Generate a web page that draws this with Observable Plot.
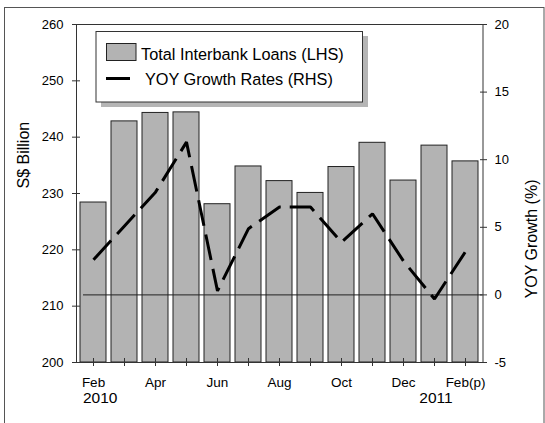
<!DOCTYPE html>
<html><head><meta charset="utf-8">
<script src="https://cdn.jsdelivr.net/npm/d3@7"></script>
<script src="https://cdn.jsdelivr.net/npm/@observablehq/plot@0.6"></script>
<style>
html,body{margin:0;padding:0;background:#fff}
#chart svg{display:block}
</style>
</head><body><div id="chart"></div>
<script>
// ---- data ----
const months = ["Feb-10","Mar-10","Apr-10","May-10","Jun-10","Jul-10","Aug-10","Sep-10","Oct-10","Nov-10","Dec-10","Jan-11","Feb-11"];
const monthLabels = ["Feb","","Apr","","Jun","","Aug","","Oct","","Dec","","Feb(p)"];
const loans = [228.4, 242.8, 244.3, 244.4, 228.1, 234.8, 232.2, 230.1, 234.7, 239.0, 232.3, 238.5, 235.7];
const growth = [2.6, 5.1, 7.6, 11.3, 0.3, 4.9, 6.5, 6.5, 3.9, 6.0, 2.5, -0.3, 3.2];
const leftTicks = [200, 210, 220, 230, 240, 250, 260];
const rightTicks = [-5, 0, 5, 10, 15, 20];
const leftDomain = [200, 260];
const rightDomain = [-5, 20];
const seriesNames = ["Total Interbank Loans (LHS)", "YOY Growth Rates (RHS)"];
const yAxisTitles = ["S$ Billion", "YOY Growth (%)"];

// map right-axis values into the left scale
const toLeft = v => leftDomain[0] + (v - rightDomain[0]) * (leftDomain[1] - leftDomain[0]) / (rightDomain[1] - rightDomain[0]);
const fromLeft = v => rightDomain[0] + (v - leftDomain[0]) * (rightDomain[1] - rightDomain[0]) / (leftDomain[1] - leftDomain[0]);

const table = months.map((m, i) => ({month: m, loans: loans[i], growth: toLeft(growth[i])}));
const labelMap = new Map(months.map((m, i) => [m, monthLabels[i]]));

const FONT = "'Liberation Sans', Arial, Helvetica, sans-serif";
const AX = "#333";

const plot = Plot.plot({
  width: 545, height: 423,
  marginLeft: 76, marginRight: 62.5, marginTop: 24, marginBottom: 61,
  style: {fontFamily: FONT, fontSize: "13px", background: "#fff", color: "#000", overflow: "visible"},
  x: {type: "band", domain: months, paddingInner: 0.17, paddingOuter: 0.06, axis: null, label: null},
  y: {domain: leftDomain, axis: null, label: null},
  marks: [
    Plot.barY(table, {x: "month", y1: leftDomain[0], y2: "loans", fill: "#b3b3b3", stroke: "#222", strokeWidth: 1}),
    Plot.ruleY([toLeft(0)], {stroke: "#222", strokeWidth: 1, insetLeft: 7}),
    Plot.line(table, {x: "month", y: "growth", stroke: "#000", strokeWidth: 3, strokeDasharray: "26,9", strokeLinejoin: "miter", strokeLinecap: "butt"}),
    Plot.frame({stroke: AX, strokeWidth: 1}),
    Plot.axisY({anchor: "left", ticks: leftTicks, tickSize: 8, dx: 4, tickPadding: 9, fontSize: 13, stroke: AX, fill: "#000", label: null}),
    Plot.axisY({anchor: "right", ticks: rightTicks.map(toLeft), tickFormat: d => String(Math.round(fromLeft(d))), tickSize: 7, dx: -3.5, tickPadding: 8, fontSize: 13, stroke: AX, fill: "#000", label: null}),
    Plot.axisX({anchor: "bottom", tickSize: 8, dy: -4, tickPadding: 11, tickFormat: d => labelMap.get(d), fontSize: 13.5, stroke: AX, fill: "#000", label: null}),
    Plot.text([{month: months[0], t: "2010"}], {x: "month", y: leftDomain[0], text: "t", dy: 36, dx: -10.5, textAnchor: "start", fontSize: 15.5, fill: "#000"}),
    Plot.text([{month: months[11], t: "2011"}], {x: "month", y: leftDomain[0], text: "t", dy: 36, dx: 1.5, fontSize: 15.5, fill: "#000"}),
    Plot.text([yAxisTitles[0]], {frameAnchor: "left", text: d => d, rotate: -90, dx: -52.5, dy: -5, fontSize: 16, fill: "#000"}),
    Plot.text([yAxisTitles[1]], {frameAnchor: "right", text: d => d, rotate: -90, dx: 48.5, dy: -14, fontSize: 16, fill: "#000"})
  ]
});

document.getElementById("chart").appendChild(plot);

// ---- legend & outer border ----
const svg = d3.select(plot);
const lg = svg.append("g").attr("text-anchor", "start");
lg.append("rect").attr("x", 101).attr("y", 36).attr("width", 267).attr("height", 71).attr("fill", "#b5b5b5");
lg.append("rect").attr("x", 96).attr("y", 31.5).attr("width", 266.5).attr("height", 70.5).attr("fill", "#fff").attr("stroke", AX);
lg.append("rect").attr("x", 106.5).attr("y", 43.5).attr("width", 29.5).attr("height", 17).attr("fill", "#b3b3b3").attr("stroke", "#222");
lg.append("line").attr("x1", 106).attr("x2", 130).attr("y1", 78.5).attr("y2", 78.5).attr("stroke", "#000").attr("stroke-width", 3);
lg.append("text").attr("x", 141).attr("y", 59.5).attr("font-family", FONT).attr("font-size", 16.3).attr("text-anchor", "start").text(seriesNames[0]);
lg.append("text").attr("x", 145).attr("y", 84.5).attr("font-family", FONT).attr("font-size", 16.3).attr("text-anchor", "start").text(seriesNames[1]);
svg.append("rect").attr("x", 4.5).attr("y", 7.5).attr("width", 539.5).attr("height", 430).attr("fill", "none").attr("stroke", "#555");
</script>
</body></html>
